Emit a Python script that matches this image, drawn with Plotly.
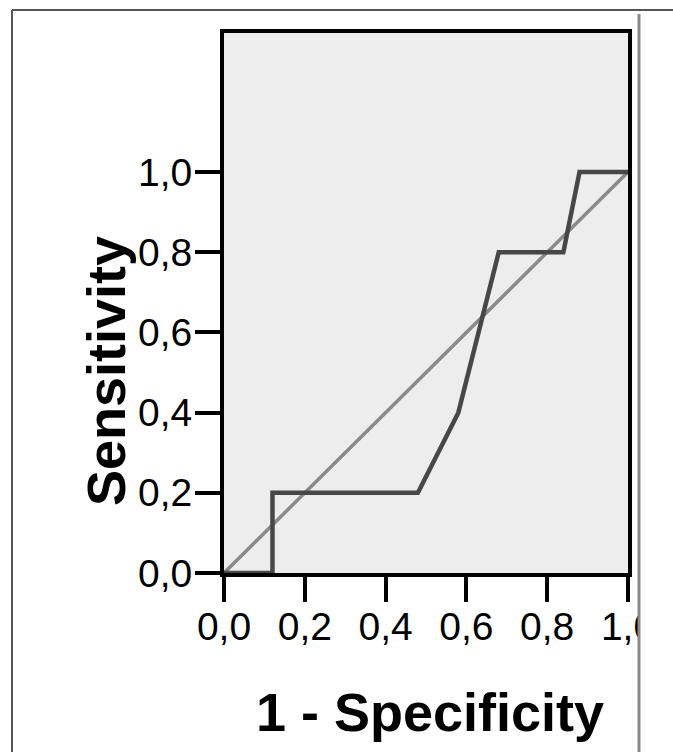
import plotly.graph_objects as go

# ROC curve
fpr = [0.0, 0.12, 0.12, 0.48, 0.58, 0.68, 0.84, 0.88, 1.0]
tpr = [0.0, 0.0, 0.2, 0.2, 0.4, 0.8, 0.8, 1.0, 1.0]
ref_x = [0.0, 1.0]
ref_y = [0.0, 1.0]
tick_vals = [0.0, 0.2, 0.4, 0.6, 0.8, 1.0]
tick_text = ["0,0", "0,2", "0,4", "0,6", "0,8", "1,0"]

W, H = 673, 752
L, R, T, B = 224, 628, 33, 573


def px(x):
    return (x - L) / (R - L)


def py(y):
    return (B - y) / (B - T)


tick_font = dict(family="Liberation Sans, Arial", size=39, color="black")
title_font = dict(family="Liberation Sans, Arial", size=54, color="black")

fig = go.Figure()
fig.add_trace(go.Scatter(x=ref_x, y=ref_y, mode="lines",
                         line=dict(color="#8a8a8a", width=3.5), showlegend=False, hoverinfo="skip"))
fig.add_trace(go.Scatter(x=fpr, y=tpr, mode="lines",
                         line=dict(color="#474747", width=4.5), showlegend=False))

fig.update_layout(
    width=W, height=H,
    margin=dict(l=L, r=W - R, t=T, b=H - B),
    paper_bgcolor="white", plot_bgcolor="#ededed",
    xaxis=dict(range=[0, 1], tickvals=tick_vals, ticktext=tick_text, showgrid=False, zeroline=False,
               showline=True, mirror=True, linecolor="black", linewidth=4,
               ticks="outside", ticklen=25, tickwidth=3.5, tickcolor="black", tickfont=tick_font,
               ticklabelstandoff=-9),
    yaxis=dict(range=[0, 1.347], tickvals=tick_vals, ticktext=tick_text, showgrid=False, zeroline=False,
               showline=True, mirror=True, linecolor="black", linewidth=4,
               ticks="outside", ticklen=25, tickwidth=3.5, tickcolor="black", tickfont=tick_font,
               ticklabelstandoff=-5),
    annotations=[
        dict(text="<b>1 - Specificity</b>", xref="paper", yref="paper", x=px(430), y=py(712),
             xanchor="center", yanchor="middle", showarrow=False, font=title_font),
        dict(text="<b>Sensitivity</b>", xref="paper", yref="paper", x=px(106), y=py(371),
             xanchor="center", yanchor="middle", textangle=-90, showarrow=False, font=title_font),
    ],
    shapes=[
        # white area clipping the last x tick label
        dict(type="rect", xref="paper", yref="paper", x0=px(640), x1=px(675), y0=py(680), y1=py(576),
             fillcolor="white", line=dict(width=0), layer="above"),
        # outer frame
        dict(type="line", xref="paper", yref="paper", x0=px(12), x1=px(673), y0=py(10), y1=py(10),
             line=dict(color="#555555", width=2), layer="above"),
        dict(type="line", xref="paper", yref="paper", x0=px(12), x1=px(12), y0=py(10), y1=py(752),
             line=dict(color="#555555", width=2), layer="above"),
        dict(type="line", xref="paper", yref="paper", x0=px(639), x1=px(639), y0=py(14), y1=py(752),
             line=dict(color="#8a8a8a", width=3), layer="above"),
    ],
)

fig.write_html("out.html")
